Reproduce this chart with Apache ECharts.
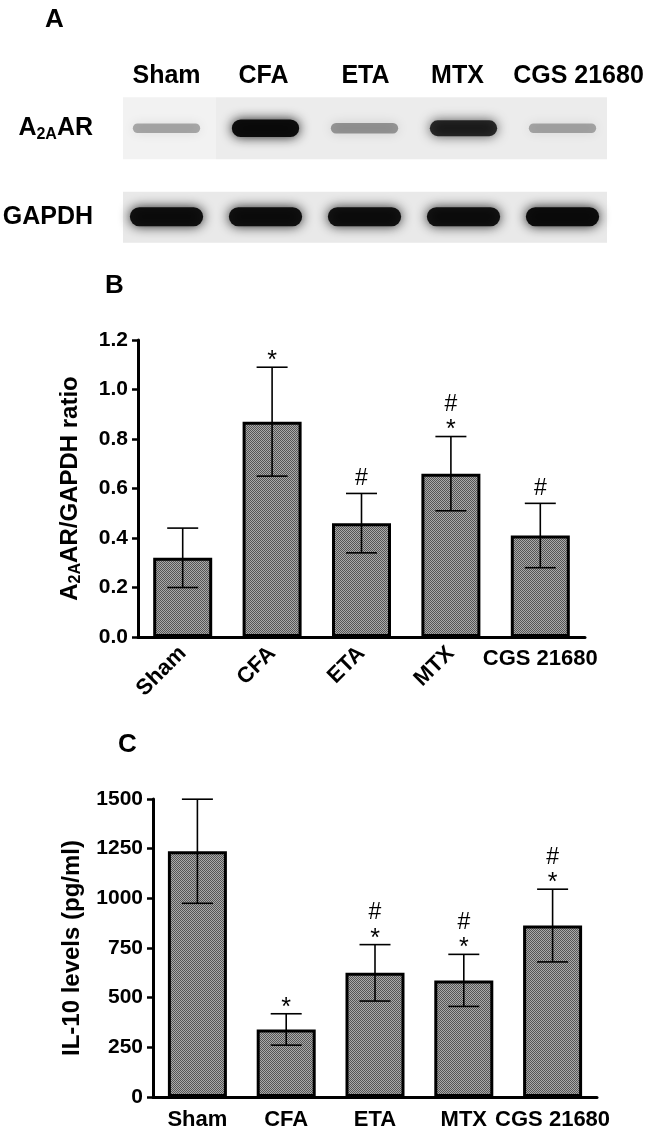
<!DOCTYPE html>
<html><head><meta charset="utf-8">
<script src="https://cdn.jsdelivr.net/npm/echarts@6/dist/echarts.min.js"></script>
<style>html,body{margin:0;padding:0;background:#fff}#c{width:648px;height:1134px}</style>
</head><body><div id="c"></div>
<script>
// ---------- data ----------
const lanes = ['Sham', 'CFA', 'ETA', 'MTX', 'CGS 21680'];
const blotRows = ['A2AAR', 'GAPDH'];
const a2aarBand = [0.30, 0.97, 0.36, 0.82, 0.30];   // band darkness
const gapdhBand = [0.95, 0.95, 0.93, 0.93, 0.97];

const categories = ['Sham', 'CFA', 'ETA', 'MTX', 'CGS 21680'];
const ratioMean = [0.32, 0.87, 0.46, 0.66, 0.41];
const ratioErr = [0.12, 0.22, 0.12, 0.15, 0.13];
const ratioMarks = ['', '*', '#', '#*', '#'];
const ratioTicks = ['0.0', '0.2', '0.4', '0.6', '0.8', '1.0', '1.2'];

const il10Mean = [1237, 340, 625, 587, 863];
const il10Err = [262, 79, 142, 131, 183];
const il10Marks = ['', '*', '#*', '#*', '#*'];
const il10Ticks = ['0', '250', '500', '750', '1000', '1250', '1500'];

// ---------- helpers ----------
const FF = '"Liberation Sans", Arial, Helvetica, sans-serif';
const pc = document.createElement('canvas');
pc.width = 2; pc.height = 2;
const g = pc.getContext('2d');
g.fillStyle = '#aaaaaa'; g.fillRect(0, 0, 2, 2);
g.fillStyle = '#555555'; g.fillRect(0, 0, 1, 1); g.fillRect(1, 1, 1, 1);
const barFill = { image: pc, repeat: 'repeat' };

function errData(mean, err) {
  return mean.map((m, i) => [i, m - err[i], m + err[i]]);
}
function errRender(marks, capW) {
  return function (params, api) {
    const i = api.value(0);
    const pHi = api.coord([i, api.value(2)]);
    const pLo = api.coord([i, api.value(1)]);
    const x = pHi[0];
    const st = { stroke: '#000', lineWidth: 1.6 };
    const ch = [
      { type: 'line', shape: { x1: x, y1: pHi[1], x2: x, y2: pLo[1] }, style: st },
      { type: 'line', shape: { x1: x - capW / 2, y1: pHi[1], x2: x + capW / 2, y2: pHi[1] }, style: st },
      { type: 'line', shape: { x1: x - capW / 2, y1: pLo[1], x2: x + capW / 2, y2: pLo[1] }, style: st }
    ];
    const chars = marks[params.dataIndex].split('').reverse();
    let c = pHi[1] - (chars[0] === '*' ? 13 : 15);
    chars.forEach((s, k) => {
      if (k > 0) c -= 19;
      ch.push({
        type: 'text',
        style: {
          text: s, x: x, y: c + (s === '*' ? 7 : 0),
          align: 'center', verticalAlign: 'middle',
          font: (s === '*' ? '25px ' : '23px ') + FF, fill: '#000'
        }
      });
    });
    return { type: 'group', children: ch };
  };
}

const blotBg = [];
const blotBands = [];
lanes.forEach((l, i) => {
  blotBg.push([i, 0]); blotBg.push([i, 1]);
  blotBands.push([i, 0, a2aarBand[i]]);
  blotBands.push([i, 1, gapdhBand[i]]);
});

const axisTxt = { color: '#000', fontFamily: FF, fontWeight: 'bold' };
const laneRich = {};
const lanePad = [[0, 0, 0, 0], [0, 4, 0, 0], [0, 0, 0, 2], [0, 12, 0, 0], [0, 0, 0, 32]];
lanes.forEach((l, i) => {
  laneRich['l' + i] = { fontSize: 25, fontWeight: 'bold', fontFamily: FF, color: '#000', padding: lanePad[i] };
});

const option = {
  animation: false,
  backgroundColor: '#fff',
  title: [
    { text: 'A', left: 40, top: 2, textStyle: { fontSize: 26, fontWeight: 'bold', fontFamily: FF, color: '#000' } },
    { text: 'B', left: 100, top: 268, textStyle: { fontSize: 26, fontWeight: 'bold', fontFamily: FF, color: '#000' } },
    { text: 'C', left: 113, top: 727, textStyle: { fontSize: 26, fontWeight: 'bold', fontFamily: FF, color: '#000' } }
  ],
  grid: [
    { left: 117, right: 36, top: 84, height: 177, outerBoundsMode: 'none' },
    { left: 138, width: 447, top: 340, height: 297, outerBoundsMode: 'none' },
    { left: 153, width: 444, top: 799, height: 298, outerBoundsMode: 'none' }
  ],
  xAxis: [
    {
      type: 'category', gridIndex: 0, data: lanes, position: 'top',
      axisLine: { show: false }, axisTick: { show: false },
      axisLabel: {
        margin: -5, interval: 0,
        formatter: (v, i) => '{l' + i + '|' + v + '}',
        rich: laneRich
      }
    },
    {
      type: 'category', gridIndex: 1, data: categories, position: 'bottom',
      axisLine: { lineStyle: { color: '#000', width: 3 } },
      axisTick: { alignWithLabel: true, length: 8, lineStyle: { color: '#000', width: 2.5 } },
      axisLabel: Object.assign({
        fontSize: 22, rotate: 45, margin: 13, interval: 0,
        formatter: (v, i) => (i === categories.length - 1 ? '' : v)
      }, axisTxt)
    },
    {
      type: 'category', gridIndex: 1, data: categories, position: 'bottom',
      axisLine: { show: false }, axisTick: { show: false },
      axisLabel: Object.assign({
        fontSize: 22, margin: 11, interval: 0,
        formatter: (v, i) => (i === categories.length - 1 ? v : '')
      }, axisTxt)
    },
    {
      type: 'category', gridIndex: 2, data: categories, position: 'bottom',
      axisLine: { lineStyle: { color: '#000', width: 3 } },
      axisTick: { alignWithLabel: true, length: 8, lineStyle: { color: '#000', width: 2.5 } },
      axisLabel: Object.assign({ fontSize: 22, margin: 12, interval: 0 }, axisTxt)
    }
  ],
  yAxis: [
    {
      type: 'category', gridIndex: 0, data: blotRows, inverse: true,
      axisLine: { show: false }, axisTick: { show: false },
      axisLabel: {
        margin: 24,
        formatter: v => (v === 'A2AAR' ? '{b|A}{s|2A}{b|AR}' : '{b|GAPDH}'),
        rich: {
          b: { fontSize: 25, fontWeight: 'bold', fontFamily: FF, color: '#000', lineHeight: 28 },
          s: { fontSize: 16, fontWeight: 'bold', fontFamily: FF, color: '#000', lineHeight: 16, verticalAlign: 'bottom' }
        }
      }
    },
    {
      type: 'value', gridIndex: 1, min: 0, max: 1.2, interval: 0.2,
      splitLine: { show: false },
      axisLine: { show: true, lineStyle: { color: '#000', width: 3 } },
      axisTick: { show: true, length: 6, lineStyle: { color: '#000', width: 2.5 } },
      axisLabel: Object.assign({ fontSize: 21, margin: 10, formatter: v => ratioTicks[Math.round(v / 0.2)] }, axisTxt),
      name: '{b|A}{s|2A}{b|AR/GAPDH ratio}', nameLocation: 'middle', nameGap: 54, nameRotate: 90,
      nameTextStyle: {
        rich: {
          b: { fontSize: 24, fontWeight: 'bold', fontFamily: FF, color: '#000', lineHeight: 28 },
          s: { fontSize: 16, fontWeight: 'bold', fontFamily: FF, color: '#000', lineHeight: 16, verticalAlign: 'bottom' }
        }
      }
    },
    {
      type: 'value', gridIndex: 2, min: 0, max: 1500, interval: 250,
      splitLine: { show: false },
      axisLine: { show: true, lineStyle: { color: '#000', width: 3 } },
      axisTick: { show: true, length: 6, lineStyle: { color: '#000', width: 2.5 } },
      axisLabel: Object.assign({ fontSize: 21, margin: 10, formatter: v => il10Ticks[Math.round(v / 250)] }, axisTxt),
      name: 'IL-10 levels (pg/ml)', nameLocation: 'middle', nameGap: 69, nameRotate: 90,
      nameTextStyle: { fontSize: 24, fontWeight: 'bold', fontFamily: FF, color: '#000' }
    }
  ],
  series: [
    {
      type: 'custom', xAxisIndex: 0, yAxisIndex: 0, data: blotBg, z: 1,
      renderItem: function (params, api) {
        const i = api.value(0), r = api.value(1);
        const c = api.coord([i, r]);
        const w = api.size([1, 1])[0];
        const h = r === 0 ? 62 : 51;
        const cy = r === 0 ? c[1] : c[1] + 0.5;
        const shade = r === 0 ? (i === 0 ? '#f2f2f2' : '#ececec') : '#e9e9e9';
        const x0 = c[0] - w / 2 + (i === 0 ? 6 : 0);
        const ww = w - (i === 0 ? 6 : 0) - (i === lanes.length - 1 ? 5 : 0);
        return {
          type: 'rect',
          shape: { x: x0, y: cy - h / 2, width: ww, height: h },
          style: { fill: shade }
        };
      }
    },
    {
      type: 'custom', xAxisIndex: 0, yAxisIndex: 0, data: blotBands, z: 2,
      renderItem: function (params, api) {
        const i = api.value(0), r = api.value(1), a = api.value(2);
        const c = api.coord([i, r]);
        const w = api.size([1, 1])[0];
        const bw = w * (r === 0 ? 0.68 : 0.74);
        const bh = r === 0 ? 6 + 12 * a : 19;
        const col = 'rgba(8,8,8,' + a + ')';
        return {
          type: 'rect',
          shape: { x: c[0] - bw / 2, y: c[1] - bh / 2, width: bw, height: bh, r: bh / 2 },
          style: { fill: col, shadowBlur: 12, shadowColor: col }
        };
      }
    },
    {
      type: 'bar', xAxisIndex: 1, yAxisIndex: 1, data: ratioMean, barWidth: 59,
      itemStyle: { color: barFill, borderColor: '#000', borderWidth: 3 }
    },
    {
      type: 'custom', xAxisIndex: 1, yAxisIndex: 1, data: errData(ratioMean, ratioErr), z: 5,
      renderItem: errRender(ratioMarks, 31)
    },
    {
      type: 'bar', xAxisIndex: 3, yAxisIndex: 2, data: il10Mean, barWidth: 59,
      itemStyle: { color: barFill, borderColor: '#000', borderWidth: 3 }
    },
    {
      type: 'custom', xAxisIndex: 3, yAxisIndex: 2, data: errData(il10Mean, il10Err), z: 5,
      renderItem: errRender(il10Marks, 31)
    }
  ]
};
const chart = echarts.init(document.getElementById('c'));
chart.setOption(option);
</script>
</body></html>
